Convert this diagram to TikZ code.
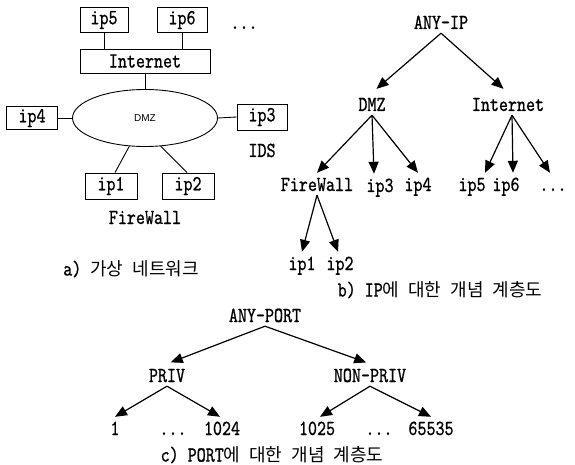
\documentclass[tikz,border=0pt]{standalone}
\usepackage{fontspec}
\newfontfamily\monof{lmmono10-regular.otf}[FakeStretch=0.8, FakeBold=0.8]
\newfontfamily\cjkf{Noto Sans CJK KR}
\newfontfamily\sansf{Liberation Sans}
\usetikzlibrary{arrows.meta,shapes.geometric}
\newcommand\lbl{\monof\fontsize{21.5}{26}\selectfont}
\newcommand\kfont{\cjkf\fontsize{18}{21}\selectfont}
\newcommand\gap{\hspace{9pt}}
\begin{document}
\begin{tikzpicture}[x=1pt,y=-1pt,
  box/.style={draw, line width=0.9pt, inner sep=0pt, font=\lbl},
  tn/.style={inner sep=4pt, text height=14pt, text depth=0pt, font=\lbl},
  arr/.style={-{Triangle[length=12pt,width=10pt]}, line width=1.2pt},
  ln/.style={line width=0.9pt},
  capt/.style={inner sep=0pt}]
\useasboundingbox (0,0) rectangle (575,465);
% ---------- a) network ----------
\node[box, minimum width=48pt, minimum height=25pt] (ip5) at (104,20) {ip5};
\node[box, minimum width=50pt, minimum height=25pt] (ip6) at (182,20) {ip6};
\node[tn] (adots) at (244,22) {...};
\node[box, minimum width=130pt, minimum height=24pt] (inet) at (145,61) {Internet};
\node[draw, ellipse, line width=0.9pt, minimum width=145pt, minimum height=57pt, inner sep=0pt,
      font=\sansf\fontsize{10}{12}\selectfont] (dmz) at (145,118) {DMZ};
\node[box, minimum width=51pt, minimum height=23pt] (ip4) at (32,118) {ip4};
\node[box, minimum width=50pt, minimum height=26pt] (ip3) at (262,117) {ip3};
\node[tn] (ids) at (262,150) {IDS};
\node[box, minimum width=52pt, minimum height=26pt] (ip1) at (111,186) {ip1};
\node[box, minimum width=52pt, minimum height=26pt] (ip2) at (188,186) {ip2};
\node[tn] (fw) at (145,217) {FireWall};
\draw[ln] (ip5.south) -- (ip5.south |- inet.north);
\draw[ln] (ip6.south) -- (ip6.south |- inet.north);
\draw[ln] (inet.south) -- (dmz.north);
\draw[ln] (ip4.east) -- (dmz.west);
\draw[ln] (dmz.east) -- (ip3.west);
\draw[ln] (dmz.241) -- ([xshift=4pt]ip1.north);
\draw[ln] (dmz.299) -- ([xshift=-1pt]ip2.north);
\node[capt] (capa) at (131,269) {\lbl a)\gap\kfont 가상\gap 네트워크};
% ---------- b) IP hierarchy ----------
\node[tn] (anyip) at (441,22) {ANY-IP};
\node[tn] (dmzb) at (372,104) {DMZ};
\node[tn] (inetb) at (508,104) {Internet};
\node[tn] (fwb) at (317,184) {FireWall};
\node[tn] (ip3b) at (380,185) {ip3};
\node[tn] (ip4b) at (418,184) {ip4};
\node[tn] (ip5b) at (472,184) {ip5};
\node[tn] (ip6b) at (506,184) {ip6};
\node[tn] (bdots) at (553,184) {...};
\node[tn] (ip1b) at (302,263) {ip1};
\node[tn] (ip2b) at (340,263) {ip2};
\draw[arr, shorten >=6pt] (anyip.south) -- (dmzb.north);
\draw[arr, shorten >=6pt] (anyip.south) -- (inetb.north);
\draw[arr] (dmzb.south) -- (fwb.north);
\draw[arr] (dmzb.south) -- ([xshift=-6pt]ip3b.north);
\draw[arr] (dmzb.south) -- (ip4b.north);
\draw[arr] ([xshift=4pt]inetb.south) -- ([xshift=13pt]ip5b.north);
\draw[arr] ([xshift=4pt]inetb.south) -- ([xshift=7pt]ip6b.north);
\draw[arr] ([xshift=4pt]inetb.south) -- ([xshift=-3pt]bdots.north);
\draw[arr] (fwb.south) -- (ip1b.north);
\draw[arr] (fwb.south) -- ([xshift=-2pt]ip2b.north);
\node[capt] (capb) at (440,290) {\lbl b)\gap IP\kfont 에\gap 대한\gap 개념\gap 계층도};
% ---------- c) PORT hierarchy ----------
\node[tn] (anyport) at (265,315) {ANY-PORT};
\node[tn] (priv) at (167,375) {PRIV};
\node[tn] (npriv) at (370,375) {NON-PRIV};
\node[tn] (p1) at (115,428) {1};
\node[tn] (pd1) at (173,428) {...};
\node[tn] (p1024) at (222,428) {1024};
\node[tn] (p1025) at (317,428) {1025};
\node[tn] (pd2) at (379,428) {...};
\node[tn] (p65535) at (431,428) {65535};
\draw[arr, shorten >=4pt] (anyport.south) -- (priv.north);
\draw[arr, shorten >=4pt] (anyport.south) -- (npriv.north);
\draw[arr] (priv.south) -- (p1.north);
\draw[arr] (priv.south) -- ([xshift=-2pt]p1024.north);
\draw[arr] (npriv.south) -- ([xshift=3pt]p1025.north);
\draw[arr] (npriv.south) -- (p65535.north);
\node[capt] (capc) at (272,455) {\lbl c)\gap PORT\kfont 에\gap 대한\gap 개념\gap 계층도};
\end{tikzpicture}
\end{document}
